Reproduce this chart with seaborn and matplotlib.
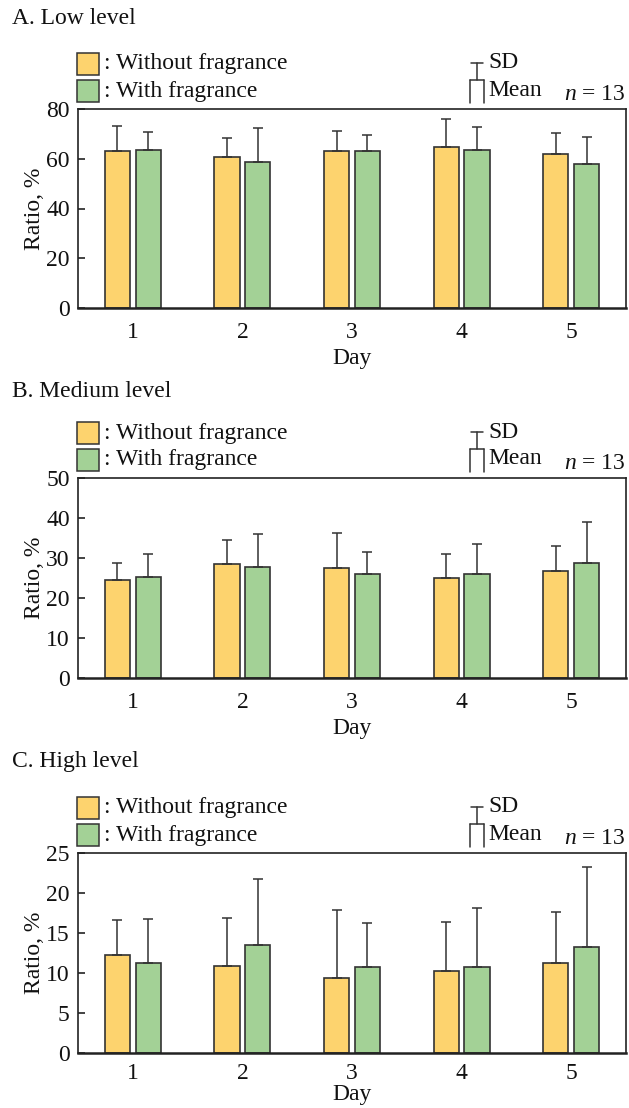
import numpy as np
import pandas as pd
import seaborn as sns
import matplotlib.pyplot as plt
from matplotlib.patches import Rectangle
from matplotlib.lines import Line2D

# Data
days = ['1', '2', '3', '4', '5']
groups = ['Without fragrance', 'With fragrance']

low_without_mean = [63.2, 60.7, 63.0, 64.7, 62.0]
low_without_sd = [10.0, 7.8, 8.0, 11.3, 8.2]
low_with_mean = [63.5, 58.8, 63.1, 63.4, 58.0]
low_with_sd = [7.3, 13.4, 6.6, 9.4, 10.6]

med_without_mean = [24.4, 28.5, 27.6, 25.0, 26.7]
med_without_sd = [4.3, 6.1, 8.6, 6.1, 6.3]
med_with_mean = [25.3, 27.8, 26.1, 25.9, 28.8]
med_with_sd = [5.7, 8.3, 5.3, 7.5, 10.1]

high_without_mean = [12.3, 10.9, 9.4, 10.3, 11.3]
high_without_sd = [4.3, 6.0, 8.5, 6.1, 6.3]
high_with_mean = [11.2, 13.5, 10.8, 10.7, 13.3]
high_with_sd = [5.6, 8.3, 5.4, 7.4, 10.0]

panel_titles = ['A. Low level', 'B. Medium level', 'C. High level']
y_limits = [80, 50, 25]
y_steps = [20, 10, 5]

colors = ['#FDD36E', '#A3D196']
edge = '#333333'

W, H = 629, 1108
sns.set_style('white')
plt.rcParams['font.family'] = ['Liberation Serif', 'DejaVu Serif']
plt.rcParams['mathtext.fontset'] = 'custom'
plt.rcParams['mathtext.rm'] = 'Liberation Serif'
plt.rcParams['mathtext.it'] = 'Liberation Serif:italic'
plt.rcParams['text.color'] = '#111111'
plt.rcParams['axes.labelcolor'] = '#111111'
plt.rcParams['xtick.color'] = '#111111'
plt.rcParams['ytick.color'] = '#111111'
FS = 17

fig = plt.figure(figsize=(W / 100, H / 100), dpi=100)

# axes boxes in pixels: (top, bottom)
boxes = [(109, 308), (478, 678), (853, 1053)]
title_y = [18, 392, 762]
tick_pads = [10, 10, 7]
label_pads = [4, 4, 0]
ax_left, ax_right = 78, 626

panels = [
    (low_without_mean, low_without_sd, low_with_mean, low_with_sd),
    (med_without_mean, med_without_sd, med_with_mean, med_with_sd),
    (high_without_mean, high_without_sd, high_with_mean, high_with_sd),
]


def fx(px):
    return px / W


def fy(py):
    return 1 - py / H


for i, (m0, s0, m1, s1) in enumerate(panels):
    top, bot = boxes[i]
    ax = fig.add_axes([fx(ax_left), fy(bot), fx(ax_right - ax_left), (bot - top) / H])

    df = pd.DataFrame({
        'Day': days * 2,
        'Group': [groups[0]] * 5 + [groups[1]] * 5,
        'Ratio': m0 + m1,
    })
    sns.barplot(data=df, x='Day', y='Ratio', hue='Group', hue_order=groups,
                palette=colors, saturation=1, width=0.56, gap=0.18,
                errorbar=None, edgecolor=edge, linewidth=1.2, legend=False,
                ax=ax)

    # one-sided SD bars on top of each bar
    for cont, sd in zip(ax.containers, [s0, s1]):
        xs = [p.get_x() + p.get_width() / 2 for p in cont.patches]
        ys = [p.get_height() for p in cont.patches]
        ax.errorbar(xs, ys, yerr=[np.zeros(len(sd)), sd], fmt='none',
                    ecolor=edge, elinewidth=1.1, capsize=3.6, capthick=1.1,
                    zorder=1)

    ax.set_ylim(0, y_limits[i])
    ax.set_yticks(np.arange(0, y_limits[i] + 1, y_steps[i]))
    ax.set_xlim(-0.5, 4.5)
    ax.tick_params(axis='y', direction='in', length=5, width=1.1, left=True,
                   labelsize=FS, pad=6)
    ax.tick_params(axis='x', length=0, labelsize=FS, pad=tick_pads[i])
    ax.set_ylabel('Ratio, %', fontsize=FS, labelpad=1)
    ax.set_xlabel('Day', fontsize=FS, labelpad=label_pads[i])
    for sp in ax.spines.values():
        sp.set_visible(True)
        sp.set_color('#222222')
        sp.set_linewidth(1.2)
    ax.spines['bottom'].set_linewidth(1.8)

    # panel title
    fig.text(fx(12), fy(title_y[i]), panel_titles[i], fontsize=FS,
             ha='left', va='center')

    # color key
    for k in range(2):
        y0 = top - 56 + k * 27
        fig.add_artist(Rectangle((fx(77), fy(y0 + 22)), fx(22), 22 / H,
                                 facecolor=colors[k], edgecolor=edge,
                                 linewidth=1.1, transform=fig.transFigure))
        fig.text(fx(104), fy(y0 + 11), ': ' + groups[k], fontsize=FS,
                 ha='left', va='center')

    # SD / Mean key glyph
    cx = 477
    key_lines = [
        ([cx - 6, cx + 6], [top - 46, top - 46]),
        ([cx, cx], [top - 46, top - 29]),
        ([cx - 7, cx + 7], [top - 29, top - 29]),
        ([cx - 7, cx - 7], [top - 29, top - 6]),
        ([cx + 7, cx + 7], [top - 29, top - 6]),
    ]
    for xs, ys in key_lines:
        fig.add_artist(Line2D([fx(v) for v in xs], [fy(v) for v in ys],
                              color=edge, linewidth=1.1,
                              transform=fig.transFigure))
    fig.text(fx(488), fy(top - 46), 'SD', fontsize=FS, ha='left', va='center')
    fig.text(fx(488), fy(top - 19), 'Mean', fontsize=FS, ha='left', va='center')
    fig.text(fx(626), fy(top - 4), r'$n$ = 13', fontsize=FS,
             ha='right', va='bottom')

fig.savefig('out.png', dpi=100)
